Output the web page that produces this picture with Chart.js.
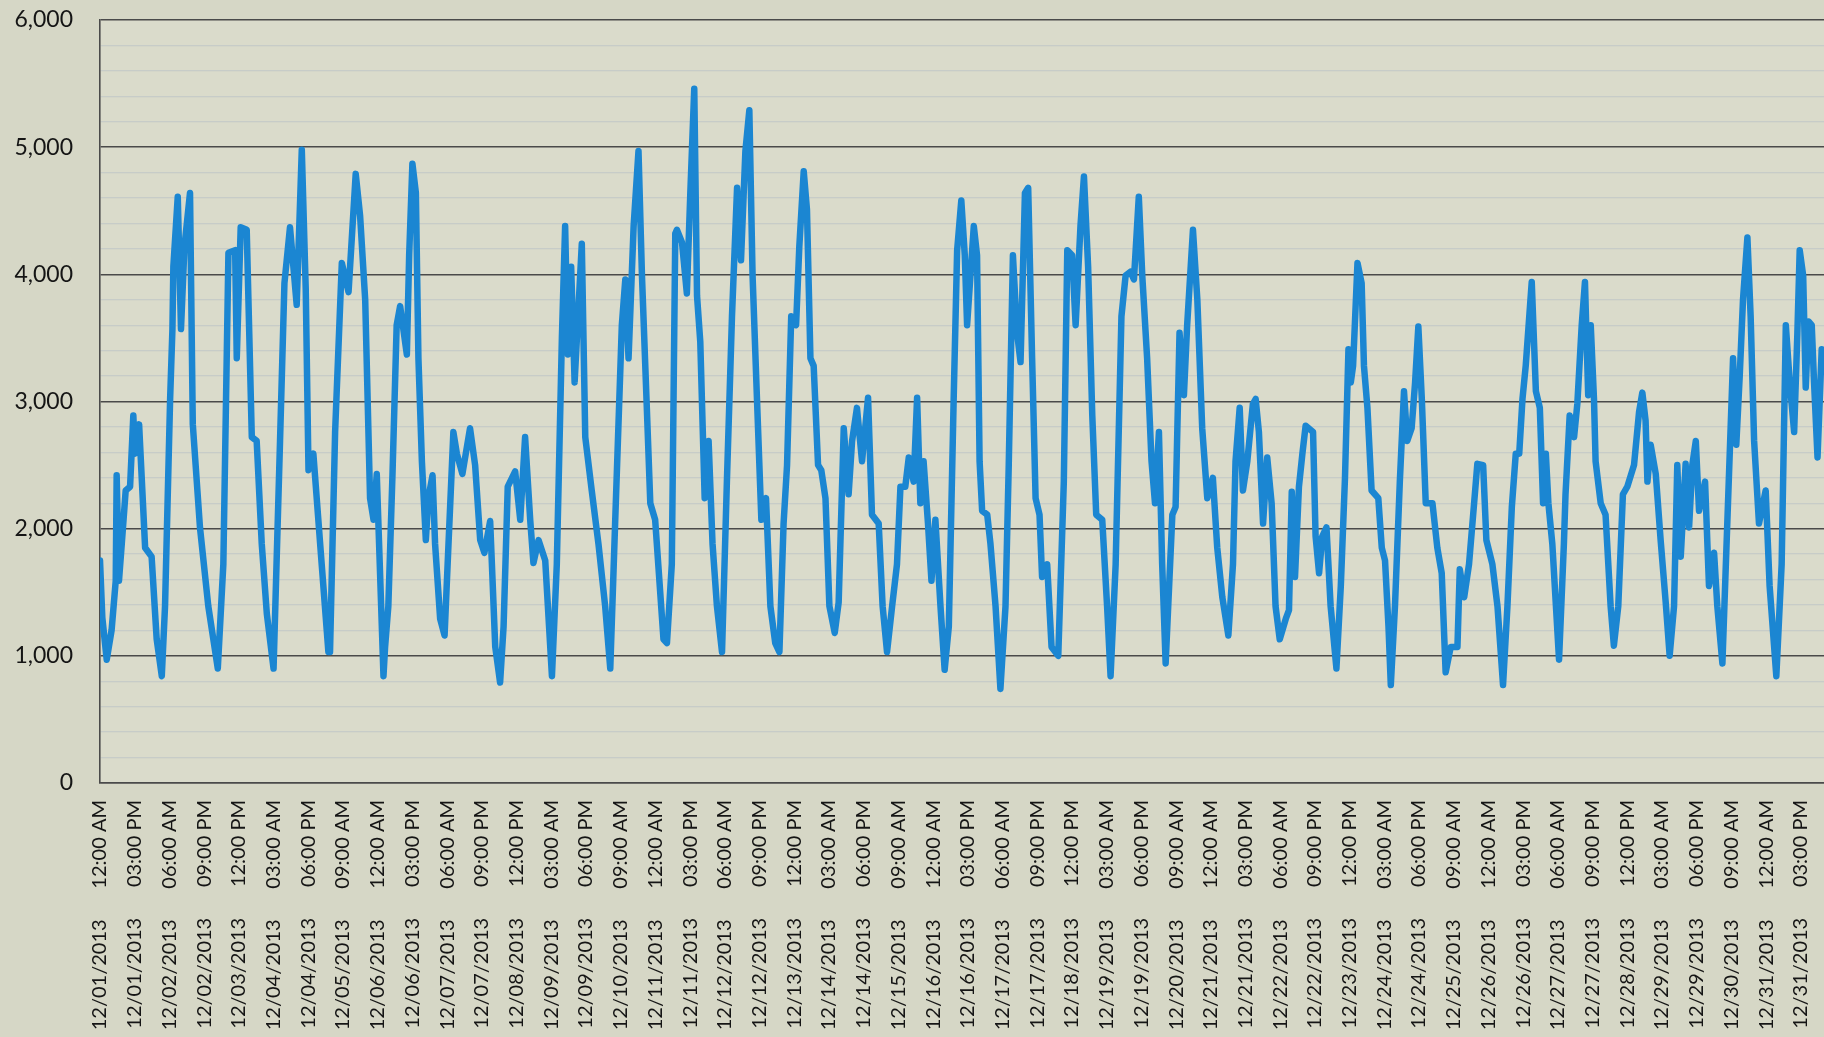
<!DOCTYPE html>
<html>
<head>
<meta charset="utf-8">
<script src="https://cdn.jsdelivr.net/npm/chart.js@4.4.0/dist/chart.umd.min.js"></script>
<style>
  html, body { margin: 0; padding: 0; overflow: hidden; background: #d6d7c6; }
  #wrap { width: 1824px; height: 1037px; }
</style>
</head>
<body>
<div id="wrap"><canvas id="myChart" width="1824" height="1037"></canvas></div>
<script>
// hours since 12/01/2013 12:00 AM at each turn of the line
var hours = [
  0, 1, 2.9, 5, 6.8, 7.2, 8.2, 9.4, 11.1, 13, 14.4, 15.1, 16.9, 19.5, 22.3, 24.5, 26.7, 28.1, 30.3, 31.3,
  31.7, 33.6, 35, 36.5, 38.9, 40.1, 43.2, 46.8, 50.9, 53.3, 55.5, 58.4, 59.1, 60.8, 63.4, 65.6, 67.7, 69.9, 72.1, 75,
  77.8, 79.7, 82.1, 85, 87.2, 88.9, 90.1, 92.2, 95.8, 98.7, 99.4, 101.6, 104.5, 107.4, 110.5, 112.4, 114.6, 116.7, 118.2, 119.6,
  122.5, 123.2, 124.6, 126.4, 128.2, 129.7, 132.6, 133.6, 135, 136.5, 137.6, 139.1, 140.8, 141.9, 143.7, 144.8, 147, 148.9, 150.6, 152.7,
  154.2, 156.6, 159.9, 162.1, 164.3, 166.1, 168.6, 170.8, 172.9, 174.4, 176.2, 179.4, 181.6, 183.7, 185.9, 187.3, 189.5, 192.4, 195.3, 197.4,
  199.6, 201, 202.2, 203.6, 205.1, 208.2, 209.7, 212.5, 215.4, 218.3, 220.5, 222.6, 225.5, 227, 228.4, 230.6, 232.7, 234.2, 236.3, 237.8,
  239.9, 243.5, 245, 247.1, 248.6, 249.3, 251.5, 253.6, 255.1, 256.8, 258, 259.4, 261.3, 263, 264.7, 266.6, 268.8, 270.9, 273.1, 275.3,
  277, 278.9, 280.6, 282, 283.9, 285.8, 287.8, 289.7, 291.8, 293.6, 295.4, 296.9, 298.7, 300.8, 302.2, 304.1, 305.5, 307, 308.4, 310.3,
  311.7, 313.5, 315.2, 317.5, 319.2, 321.4, 323.5, 325, 327.1, 329.3, 331.9, 333.6, 336.5, 338.2, 340.1, 342.3, 344.4, 345.9, 348, 349.5,
  351.6, 353.1, 354.5, 355.9, 357.8, 359.3, 361, 363.2, 365, 366.8, 368.9, 370.4, 372.2, 373.7, 374.7, 377.6, 379, 380.1, 381.2, 383.4,
  384.8, 387, 389.1, 391.3, 392.7, 394.5, 396.3, 397.8, 399.7, 401.1, 402.8, 404.3, 406, 407.1, 409.3, 411.2, 414.1, 416.5, 418, 420.1,
  421.6, 423.7, 425.2, 427, 428.8, 430.5, 433.1, 435.2, 436.7, 438.9, 441.4, 443.2, 445.3, 446.8, 448.9, 450.4, 452.5, 454.4, 455.9, 457.6,
  459, 460.5, 463.4, 464.8, 466.5, 468.4, 469.8, 472.3, 474.2, 476.3, 478.5, 480.9, 482.8, 485, 487.6, 489.6, 490.7, 492.5, 493.9, 495.8,
  498.2, 499.4, 500.8, 502.6, 504.4, 506.3, 508, 509.8, 512.4, 513.8, 515, 516.4, 518.1, 519.6, 521, 524.2, 525.3, 526.8, 528.2, 530,
  531.8, 534.3, 536.2, 538, 539.5, 540.5, 541.5, 543.4, 545.2, 546.2, 547.7, 549.5, 552.4, 553.9, 555.3, 556.8, 557.8, 559.6, 561.7, 563.5,
  564.9, 566.8, 568.3, 569.7, 571.2, 572.9, 575.8, 577.9, 579.8, 581.5, 583.7, 586.6, 587.6, 589.5, 591.6, 593.8, 595.2, 597.7, 599.1, 601.7,
  603.9, 606.3, 608.2, 610.1, 611.8, 613.3, 614.7, 616.1, 618.7, 620.5, 622.2, 623.6, 624.8, 625.9, 627.6, 630.5, 632.6, 633.3, 635.1, 637,
  638.4, 640.3, 641.7, 643.1, 644.2, 645.6, 646.3, 648.5, 650.6, 652.8, 654.2, 656.1, 658.1, 660, 662.9, 665.1, 666.5, 667.9, 668.7, 670.1,
  672.3, 674.4, 676.6, 678.3, 680.2, 681.6, 683.1, 685.2, 686.7, 688.1, 689.6, 691, 693.6, 695.3, 697.5, 698.9, 701.1, 703.7, 705.7, 707.1,
  708.6, 710, 711.9, 713.3, 714.8, 716.9, 719.8, 721.5, 724.4, 726.7, 728.5, 730.2, 732.1, 733.5, 734.5, 736, 737.1, 738.3, 739.7, 740.7,
  742.2, 744
];

var load = [
  1750, 1300, 970, 1200, 1590, 2420, 1590, 1880, 2300, 2330, 2890, 2590, 2820, 1850, 1780, 1130, 840, 1390, 3020, 3570,
  4060, 4610, 3570, 4220, 4640, 2820, 2010, 1390, 900, 1720, 4170, 4190, 3340, 4370, 4350, 2720, 2690, 1880, 1330, 900,
  2690, 3930, 4370, 3760, 4980, 3890, 2460, 2590, 1720, 1030, 1030, 2760, 4090, 3860, 4790, 4460, 3800, 2240, 2070, 2430,
  840, 1070, 1390, 2430, 3600, 3750, 3370, 4150, 4870, 4640, 3340, 2530, 1910, 2240, 2420, 1880, 1290, 1160, 1880, 2760,
  2590, 2430, 2790, 2500, 1910, 1810, 2060, 1070, 790, 1230, 2330, 2450, 2070, 2720, 2070, 1730, 1910, 1750, 840, 1720,
  3500, 4380, 3370, 4060, 3150, 4240, 2720, 2300, 1880, 1390, 900, 2040, 3600, 3960, 3340, 4380, 4970, 3990, 2950, 2200,
  2070, 1130, 1100, 1720, 4320, 4350, 4250, 3850, 4640, 5460, 3830, 3470, 2240, 2690, 1880, 1390, 1030, 2370, 3670, 4680,
  4110, 4970, 5290, 3990, 3020, 2070, 2240, 1390, 1100, 1030, 2040, 2500, 3670, 3600, 4220, 4810, 4510, 3340, 3280, 2500,
  2460, 2240, 1390, 1180, 1420, 2790, 2270, 2690, 2950, 2530, 3030, 2110, 2040, 1390, 1030, 1390, 1720, 2330, 2330, 2560,
  2370, 3030, 2200, 2530, 2040, 1590, 2070, 1390, 890, 1230, 3020, 4190, 4580, 4150, 3600, 4380, 4150, 2530, 2140, 2110,
  1880, 1390, 740, 1390, 2500, 4150, 3540, 3310, 4640, 4680, 3340, 2240, 2110, 1620, 1720, 1070, 1000, 2370, 4190, 4150,
  3600, 4380, 4770, 4060, 2890, 2110, 2070, 1390, 840, 1720, 3670, 3990, 4020, 3960, 4610, 3990, 3340, 2530, 2200, 2760,
  1720, 940, 2110, 2170, 3540, 3050, 3600, 4350, 3800, 2790, 2240, 2400, 1850, 1460, 1160, 1720, 2530, 2950, 2300, 2530,
  2980, 3020, 2760, 2040, 2560, 2200, 1390, 1130, 1290, 1360, 2290, 1620, 2330, 2590, 2810, 2760, 1940, 1650, 1940, 2010,
  1390, 900, 1550, 2400, 3410, 3150, 3280, 4090, 3930, 3280, 2950, 2300, 2240, 1850, 1750, 1230, 770, 1390, 2370, 3080,
  2690, 2790, 3150, 3590, 3020, 2200, 2200, 1850, 1650, 870, 1070, 1070, 1680, 1460, 1720, 2200, 2510, 2500, 1910, 1720,
  1390, 770, 1390, 2170, 2590, 2590, 3020, 3280, 3940, 3080, 2950, 2200, 2590, 2200, 1880, 970, 1880, 2270, 2890, 2720,
  2980, 3600, 3940, 3050, 3600, 3020, 2530, 2200, 2110, 1390, 1080, 1390, 2270, 2330, 2500, 2920, 3070, 2850, 2370, 2660,
  2430, 1910, 1420, 1000, 1390, 2500, 1780, 2510, 2010, 2500, 2690, 2140, 2370, 1550, 1810, 1390, 940, 2300, 3340, 2660,
  3210, 3800, 4290, 3670, 2690, 2040, 2300, 1550, 840, 1720, 3600, 3150, 2760, 3540, 4190, 3990, 3110, 3630, 3600, 3150,
  2560, 3410
];

// one label every 15 hours
var tickLabels = [
  '12/01/2013      12:00 AM', '12/01/2013      03:00 PM', '12/02/2013      06:00 AM', '12/02/2013      09:00 PM',
  '12/03/2013      12:00 PM', '12/04/2013      03:00 AM', '12/04/2013      06:00 PM', '12/05/2013      09:00 AM',
  '12/06/2013      12:00 AM', '12/06/2013      03:00 PM', '12/07/2013      06:00 AM', '12/07/2013      09:00 PM',
  '12/08/2013      12:00 PM', '12/09/2013      03:00 AM', '12/09/2013      06:00 PM', '12/10/2013      09:00 AM',
  '12/11/2013      12:00 AM', '12/11/2013      03:00 PM', '12/12/2013      06:00 AM', '12/12/2013      09:00 PM',
  '12/13/2013      12:00 PM', '12/14/2013      03:00 AM', '12/14/2013      06:00 PM', '12/15/2013      09:00 AM',
  '12/16/2013      12:00 AM', '12/16/2013      03:00 PM', '12/17/2013      06:00 AM', '12/17/2013      09:00 PM',
  '12/18/2013      12:00 PM', '12/19/2013      03:00 AM', '12/19/2013      06:00 PM', '12/20/2013      09:00 AM',
  '12/21/2013      12:00 AM', '12/21/2013      03:00 PM', '12/22/2013      06:00 AM', '12/22/2013      09:00 PM',
  '12/23/2013      12:00 PM', '12/24/2013      03:00 AM', '12/24/2013      06:00 PM', '12/25/2013      09:00 AM',
  '12/26/2013      12:00 AM', '12/26/2013      03:00 PM', '12/27/2013      06:00 AM', '12/27/2013      09:00 PM',
  '12/28/2013      12:00 PM', '12/29/2013      03:00 AM', '12/29/2013      06:00 PM', '12/30/2013      09:00 AM',
  '12/31/2013      12:00 AM', '12/31/2013      03:00 PM'
];

var yTickLabels = ['0', '1,000', '2,000', '3,000', '4,000', '5,000', '6,000'];

var points = hours.map(function (h, i) { return { x: h, y: load[i] }; });

// papel de fundo (scan bege)
var paper = {
  id: 'paper',
  beforeDraw: function (chart) {
    var c = chart.ctx, a = chart.chartArea;
    c.save();
    c.fillStyle = '#d6d7c6';
    c.fillRect(0, 0, chart.width, chart.height);
    c.fillStyle = '#dadbcb';
    c.fillRect(a.left, a.top, a.right - a.left, a.bottom - a.top);
    c.restore();
  }
};

var ctx = document.getElementById('myChart').getContext('2d');
new Chart(ctx, {
  type: 'line',
  data: {
    datasets: [{
      data: points,
      borderColor: '#1b86d2',
      borderWidth: 6.5,
      borderJoinStyle: 'round',
      borderCapStyle: 'round',
      pointRadius: 0,
      tension: 0,
      fill: false
    }]
  },
  options: {
    responsive: false,
    animation: false,
    devicePixelRatio: 1,
    layout: { padding: { top: 20, left: 0, right: 0, bottom: 0 } },
    plugins: { legend: { display: false }, tooltip: { enabled: false } },
    scales: {
      x: {
        type: 'linear',
        min: 0,
        max: 745,
        afterFit: function (scale) { scale.height = 254; scale.paddingLeft = 0; scale.paddingRight = 0; },
        grid: { display: false, drawTicks: false },
        border: { display: true, color: '#4a4a4a', width: 1.6 },
        ticks: {
          stepSize: 15,
          includeBounds: false,
          autoSkip: false,
          minRotation: 90,
          maxRotation: 90,
          padding: 17,
          color: '#151515',
          font: { family: 'Lato', size: 20 },
          callback: function (v) { return tickLabels[Math.round(v / 15)]; }
        }
      },
      y: {
        min: 0,
        max: 6000,
        afterFit: function (scale) { scale.width = 100; scale.paddingTop = 0; scale.paddingBottom = 0; },
        grid: {
          drawTicks: false,
          color: function (c) { return c.tick && c.tick.value % 1000 === 0 ? '#4a4a4a' : 'rgba(155,168,196,0.3)'; },
          lineWidth: function (c) { return c.tick && c.tick.value % 1000 === 0 ? 1.6 : 1.3; }
        },
        border: { display: true, color: '#4a4a4a', width: 1.6 },
        ticks: {
          stepSize: 200,
          autoSkip: false,
          padding: 27,
          color: '#151515',
          font: { family: 'Lato', size: 23 },
          callback: function (v) { return v % 1000 === 0 ? yTickLabels[v / 1000] : ''; }
        }
      }
    }
  },
  plugins: [paper]
});
</script>
</body>
</html>
